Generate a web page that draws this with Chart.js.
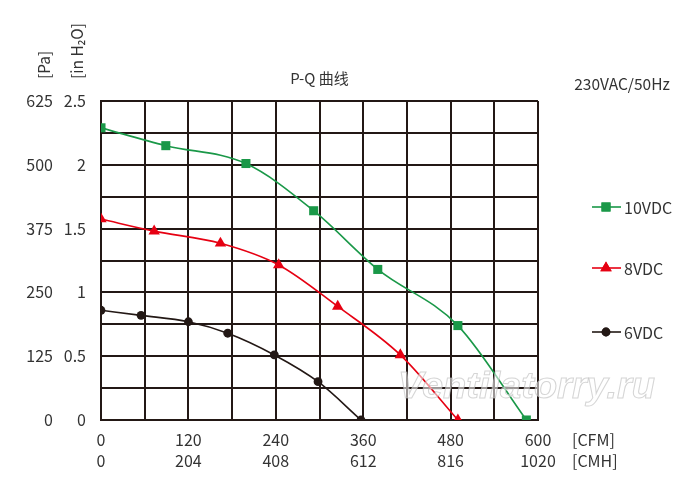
<!DOCTYPE html>
<html>
<head>
<meta charset="utf-8">
<script src="https://cdn.jsdelivr.net/npm/chart.js@4"></script>
<style>
html,body{margin:0;padding:0;background:#fff;}
#wrap{width:700px;height:484px;}
</style>
</head>
<body>
<div id="wrap"><canvas id="c" width="700" height="484"></canvas></div>
<script>
// ---- data ----
const seriesNames = ['10VDC', '8VDC', '6VDC'];
const cfm10 = [0, 89, 199, 292, 380, 490, 584];
const inh10 = [2.29, 2.15, 2.01, 1.64, 1.18, 0.74, 0];
const cfm8 = [0, 73, 164, 244, 325, 411, 490];
const inh8 = [1.575, 1.48, 1.385, 1.215, 0.89, 0.51, 0];
const cfm6 = [0, 55, 120, 174, 238, 298, 357];
const inh6 = [0.86, 0.82, 0.77, 0.68, 0.51, 0.30, 0];
const cfmTicks = [0, 120, 240, 360, 480, 600];
const cmhTicks = [0, 204, 408, 612, 816, 1020];
const inhTicks = [0, 0.5, 1, 1.5, 2, 2.5];
const paTicks = [0, 125, 250, 375, 500, 625];

const GREEN = '#1a9848';
const RED = '#e60012';
const BLACK = '#231815';
const TEXT = '#333333';
const FONT = '"Noto Sans CJK SC", "Noto Sans", sans-serif';

function pts(xs, ys) { return xs.map((x, i) => ({x: x, y: ys[i]})); }

const colors = [GREEN, RED, BLACK];
const styles = ['rect', 'triangle', 'circle'];
const radii = [6.4, 6.6, 4.4];

const datasets = [
  {label: seriesNames[0], data: pts(cfm10, inh10)},
  {label: seriesNames[1], data: pts(cfm8, inh8)},
  {label: seriesNames[2], data: pts(cfm6, inh6)}
].map((d, i) => Object.assign(d, {
  borderColor: colors[i], backgroundColor: colors[i],
  borderWidth: 1.6, pointStyle: styles[i], pointRadius: radii[i],
  pointBorderWidth: 0, pointBackgroundColor: colors[i],
  cubicInterpolationMode: 'monotone', fill: false,
  xAxisID: 'x', yAxisID: 'y'
}));

const decor = {
  id: 'decor',
  afterDraw(chart) {
    const ctx = chart.ctx;
    ctx.save();
    ctx.fillStyle = TEXT;
    ctx.textBaseline = 'middle';
    // title
    ctx.font = '15px ' + FONT;
    ctx.textAlign = 'center';
    const ca = chart.chartArea;
    ctx.fillText('P-Q 曲线', (ca.left + ca.right) / 2, 78);
    ctx.font = '15.5px ' + FONT;
    ctx.fillText('230VAC/50Hz', 622, 84);
    // units on x axes
    ctx.font = '16px ' + FONT;
    ctx.textAlign = 'left';
    ctx.fillText('[CFM]', 572, 440);
    ctx.fillText('[CMH]', 572, 461);
    // rotated y units
    ctx.font = '15.5px ' + FONT;
    ctx.save();
    ctx.translate(44, 79);
    ctx.rotate(-Math.PI / 2);
    ctx.fillText('[Pa]', 0, 0);
    ctx.restore();
    ctx.save();
    ctx.translate(77, 79);
    ctx.rotate(-Math.PI / 2);
    ctx.fillText('[in H₂O]', 0, 0);
    ctx.restore();
    // legend
    const ly = [207, 268, 332];
    chart.data.datasets.forEach((ds, i) => {
      const y = ly[i];
      ctx.strokeStyle = ds.borderColor;
      ctx.lineWidth = 1.6;
      ctx.beginPath();
      ctx.moveTo(592, y); ctx.lineTo(621, y);
      ctx.stroke();
      ctx.fillStyle = ds.borderColor;
      Chart.helpers.drawPoint(ctx, {pointStyle: ds.pointStyle, radius: ds.pointRadius, borderWidth: 0}, 606, y);
      ctx.fill();
      ctx.fillStyle = TEXT;
      ctx.font = '16px ' + FONT;
      ctx.fillText(ds.label, 624, y + 1);
    });
    // watermark
    ctx.textBaseline = 'alphabetic';
    ctx.font = 'italic bold 36px "Liberation Sans", sans-serif';
    const w = ctx.measureText('Ventilatorry.ru').width;
    ctx.save();
    ctx.translate(398, 398);
    ctx.scale(257 / w, 1);
    ctx.fillStyle = 'rgba(255,255,255,0.55)';
    ctx.strokeStyle = 'rgba(185,185,185,0.6)';
    ctx.lineWidth = 1;
    ctx.fillText('Ventilatorry.ru', 0, 0);
    ctx.strokeText('Ventilatorry.ru', 0, 0);
    ctx.restore();
    ctx.restore();
  }
};

const tickFont = {family: FONT, size: 16, lineHeight: 1};
const gridOpt = {color: BLACK, lineWidth: 2, drawTicks: false};

new Chart(document.getElementById('c'), {
  type: 'line',
  data: {datasets: datasets},
  options: {
    responsive: false,
    animation: false,
    devicePixelRatio: 1,
    layout: {padding: {left: 0, top: 101, right: 162, bottom: 8}},
    plugins: {legend: {display: false}, title: {display: false}, tooltip: {enabled: false}},
    scales: {
      x: {
        type: 'linear', position: 'bottom', weight: 0,
        min: 0, max: 600,
        grid: gridOpt,
        border: {color: BLACK, width: 2},
        ticks: {stepSize: 60, padding: 12, color: TEXT, font: tickFont, maxRotation: 0, autoSkip: false,
          callback: v => cfmTicks.includes(v) ? String(v) : ''},
        afterFit: s => { s.height = 27; }
      },
      xCmh: {
        type: 'linear', position: 'bottom', weight: 1,
        min: 0, max: 1020,
        grid: {display: false, drawTicks: false},
        border: {display: false},
        ticks: {stepSize: 204, padding: 6, color: TEXT, font: tickFont, maxRotation: 0, autoSkip: false,
          callback: v => cmhTicks.includes(v) ? String(v) : ''},
        afterFit: s => { s.height = 29; }
      },
      y: {
        type: 'linear', position: 'left', weight: 0,
        min: 0, max: 2.5,
        grid: gridOpt,
        border: {color: BLACK, width: 2},
        ticks: {stepSize: 0.25, padding: 15, color: TEXT, font: tickFont, autoSkip: false,
          callback: v => inhTicks.includes(v) ? String(v) : ''},
        afterFit: s => { s.width = 40; }
      },
      yPa: {
        type: 'linear', position: 'left', weight: 1,
        min: 0, max: 625,
        grid: {display: false, drawTicks: false},
        border: {display: false},
        ticks: {stepSize: 62.5, padding: 8, color: TEXT, font: tickFont, autoSkip: false,
          callback: v => paTicks.includes(v) ? String(v) : ''},
        afterFit: s => { s.width = 61; }
      }
    }
  },
  plugins: [decor]
});
</script>
</body>
</html>
